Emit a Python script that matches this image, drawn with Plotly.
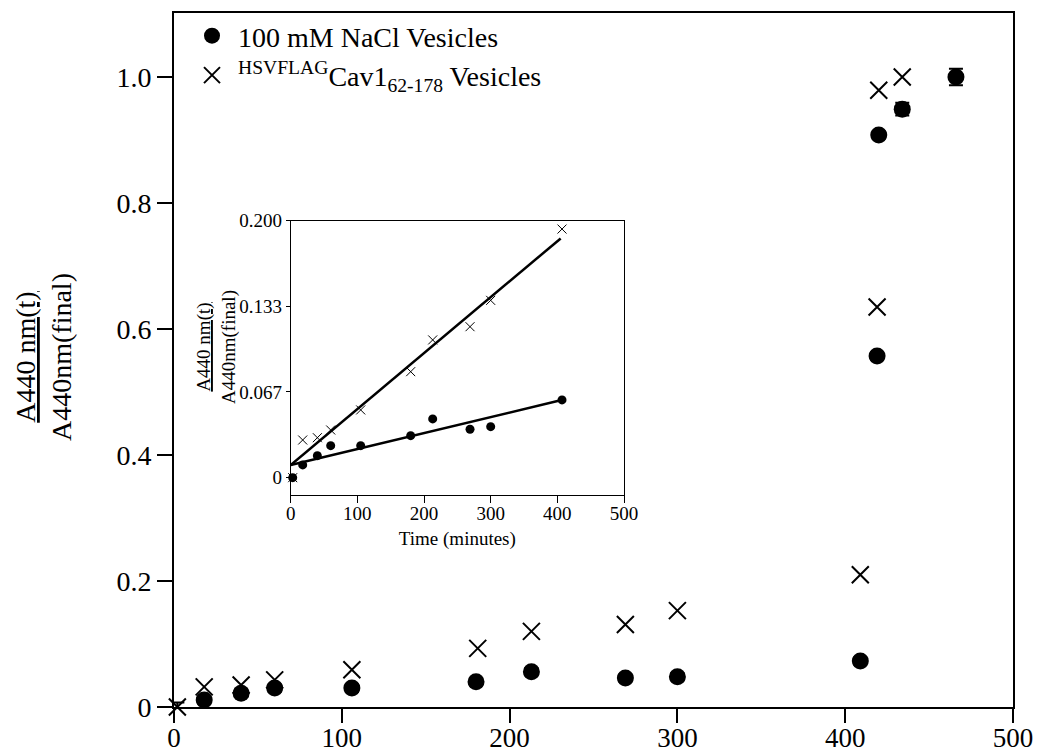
import plotly.graph_objects as go

# ---- main panel: normalised absorbance vs time ----
t_nacl = [2, 18, 40, 60, 106, 180, 213, 269, 300, 409, 419, 420, 434, 466]
a_nacl = [-0.002, 0.011, 0.022, 0.030, 0.030, 0.040, 0.056, 0.046, 0.048,
          0.073, 0.557, 0.908, 0.949, 1.0]
err_nacl = [0.009, 0.006, 0.006, 0.006, 0.006, 0.006, 0.006, 0.006, 0.006,
            0.006, 0.006, 0.006, 0.010, 0.013]

t_cav = [2, 18, 40, 60, 106, 181, 213, 269, 300, 409, 419, 420, 434]
a_cav = [0.0, 0.032, 0.035, 0.043, 0.059, 0.093, 0.120, 0.131, 0.153,
         0.210, 0.635, 0.979, 1.0]

x_ticks = [0, 100, 200, 300, 400, 500]
y_ticks = [0, 0.2, 0.4, 0.6, 0.8, 1.0]
y_ticktext = ["0", "0.2", "0.4", "0.6", "0.8", "1.0"]

# ---- inset: early time points with linear fits ----
t_in = [3, 18, 40, 60, 105, 180, 213, 269, 300, 407]
in_nacl = [0.0, 0.0099, 0.0171, 0.0249, 0.0249, 0.0327, 0.0457, 0.0377, 0.0397, 0.0605]
in_cav = [0.0, 0.0293, 0.0311, 0.0371, 0.0527, 0.0825, 0.1072, 0.1175, 0.138, 0.1935]

fit_t = [0, 405]
fit_nacl = [0.0099, 0.0602]
fit_cav = [0.0099, 0.1862]

in_x_ticks = [0, 100, 200, 300, 400, 500]
in_y_ticks = [0, 0.0667, 0.1333, 0.2]
in_y_ticktext = ["0", "0.067", "0.133", "0.200"]

FONT = "Liberation Serif, Times New Roman, serif"
W, H = 1037, 755
ML, MR, MT, MB = 174, 24, 13, 48
PW, PH = W - ML - MR, H - MT - MB


def px_x(p):
    return (p - ML) / PW


def px_y(p):
    return (H - MB - p) / PH


fig = go.Figure()

fig.add_trace(go.Scatter(
    x=t_nacl, y=a_nacl, mode="markers", name="100 mM NaCl Vesicles",
    marker=dict(symbol="circle", size=17, color="black"),
    error_y=dict(type="data", array=err_nacl, color="black", thickness=2, width=7),
    cliponaxis=False,
))
fig.add_trace(go.Scatter(
    x=t_cav, y=a_cav, mode="markers",
    name="<sup>HSVFLAG</sup>Cav1<sub>62-178</sub> Vesicles",
    marker=dict(symbol="x-thin-open", size=17, color="black",
                line=dict(color="black", width=2)),
    cliponaxis=False,
))

# inset traces
fig.add_trace(go.Scatter(
    x=fit_t, y=fit_cav, mode="lines", line=dict(color="black", width=2.5),
    xaxis="x2", yaxis="y2", showlegend=False,
))
fig.add_trace(go.Scatter(
    x=fit_t, y=fit_nacl, mode="lines", line=dict(color="black", width=2.5),
    xaxis="x2", yaxis="y2", showlegend=False,
))
fig.add_trace(go.Scatter(
    x=t_in, y=in_nacl, mode="markers",
    marker=dict(symbol="circle", size=9, color="black"),
    xaxis="x2", yaxis="y2", showlegend=False, cliponaxis=False,
))
fig.add_trace(go.Scatter(
    x=t_in, y=in_cav, mode="markers",
    marker=dict(symbol="x-thin-open", size=9, color="black",
                line=dict(color="black", width=1)),
    xaxis="x2", yaxis="y2", showlegend=False, cliponaxis=False,
))

axis_font = dict(family=FONT, size=28, color="black")
xtick_font = dict(family=FONT, size=27, color="black")
inset_font = dict(family=FONT, size=19, color="black")

fig.update_layout(
    width=W, height=H,
    margin=dict(l=ML, r=MR, t=MT, b=MB, pad=0, autoexpand=False),
    paper_bgcolor="white", plot_bgcolor="white",
    font=dict(family=FONT, color="black"),
    showlegend=True,
    legend=dict(
        x=px_x(186), y=px_y(11), xanchor="left", yanchor="top",
        font=dict(family=FONT, size=28, color="black"),
        bgcolor="rgba(0,0,0,0)", borderwidth=0, tracegroupgap=0,
        itemsizing="trace", itemwidth=42,
    ),
    xaxis=dict(
        domain=[0, 1], range=[0, 500], tickvals=x_ticks, automargin=False,
        showline=True, linecolor="black", linewidth=2, mirror=True,
        ticks="outside", ticklen=14, tickwidth=2, tickcolor="black",
        ticklabelstandoff=-8,
        showgrid=False, zeroline=False, tickfont=xtick_font,
    ),
    yaxis=dict(
        domain=[0, 1], range=[0, (H - MB - MT) / 630.0], tickvals=y_ticks,
        ticktext=y_ticktext, automargin=False,
        showline=True, linecolor="black", linewidth=2, mirror=True,
        ticks="outside", ticklen=15, tickwidth=2, tickcolor="black",
        showgrid=False, zeroline=False, tickfont=axis_font,
    ),
    xaxis2=dict(
        domain=[px_x(290.7), px_x(624)], range=[0, 500], anchor="y2",
        tickvals=in_x_ticks, automargin=False,
        showline=True, linecolor="black", linewidth=1, mirror=True,
        ticks="outside", ticklen=7, tickwidth=1, tickcolor="black",
        ticklabelstandoff=-6,
        showgrid=False, zeroline=False, tickfont=inset_font,
        title=dict(text="Time (minutes)", font=inset_font, standoff=8),
    ),
    yaxis2=dict(
        domain=[px_y(495), px_y(220.7)], range=[-0.0135, 0.2], anchor="x2",
        tickvals=in_y_ticks, ticktext=in_y_ticktext, automargin=False,
        showline=True, linecolor="black", linewidth=1, mirror=True,
        ticks="outside", ticklen=4, tickwidth=1, tickcolor="black",
        showgrid=False, zeroline=False, tickfont=inset_font,
    ),
    annotations=[
        dict(
            text="<u>A440 nm(t)</u><br>A440nm(final)",
            xref="paper", yref="paper", x=px_x(43), y=px_y(357),
            xanchor="center", yanchor="middle", textangle=-90,
            showarrow=False, font=dict(family=FONT, size=28, color="black"),
        ),
        dict(
            text="<u>A440 nm(t)</u><br>A440nm(final)",
            xref="paper", yref="paper", x=px_x(216), y=px_y(347),
            xanchor="center", yanchor="middle", textangle=-90,
            showarrow=False, font=dict(family=FONT, size=19, color="black"),
        ),
    ],
)

fig.write_html("out.html")
